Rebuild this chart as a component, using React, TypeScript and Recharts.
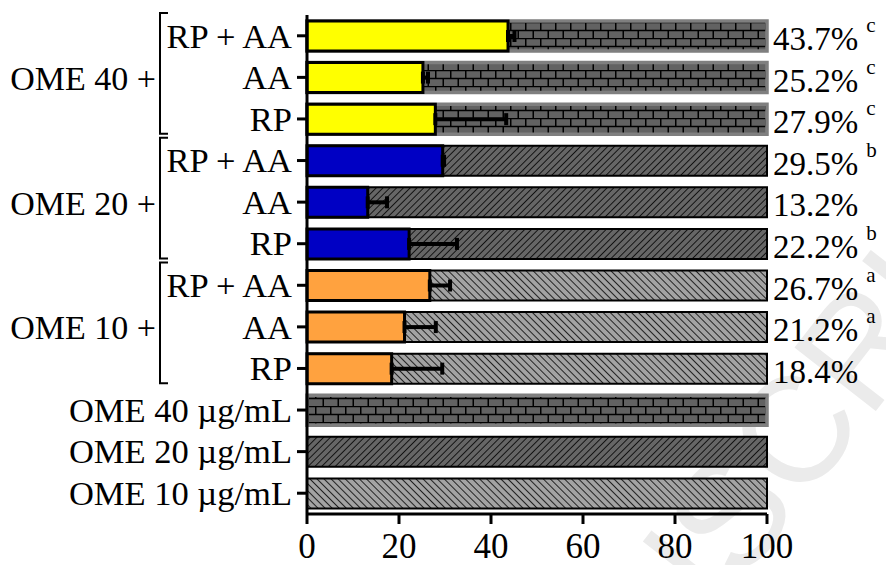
import { Bar, BarChart, Cell, ErrorBar, LabelList, XAxis, YAxis } from "recharts";

const rowLabels = [
  "RP + AA", "AA", "RP",
  "RP + AA", "AA", "RP",
  "RP + AA", "AA", "RP",
  "OME 40 µg/mL", "OME 20 µg/mL", "OME 10 µg/mL",
];
const rowDose = [40, 40, 40, 20, 20, 20, 10, 10, 10, 40, 20, 10];
const controlValues = [100, 100, 100, 100, 100, 100, 100, 100, 100, 100, 100, 100];
const treatedValues = [43.7, 25.2, 27.9, 29.5, 13.2, 22.2, 26.7, 21.2, 18.4, null, null, null];
const errorPlus = [1.4, 1.1, 15.4, 0.3, 4.2, 10.4, 4.4, 6.8, 11.0, null, null, null];
const sigLetters = ["c", "c", "c", "b", "", "b", "a", "a", "", "", "", ""];
const groupLabels = ["OME 40 +", "OME 20 +", "OME 10 +"];
const xTicks = [0, 20, 40, 60, 80, 100];

const W = 886;
const H = 565;
const MARGIN = { top: 15, right: 119, bottom: 0, left: 0 };
const X_AXIS_H = 51;
const Y_AXIS_W = 307;
const BAND = (H - MARGIN.top - MARGIN.bottom - X_AXIS_H) / rowLabels.length;
const FONT = "'Liberation Serif', 'Times New Roman', serif";

const doseColor: Record<number, string> = { 40: "#ffff00", 20: "#0000c4", 10: "#ffa23f" };
const dosePattern: Record<number, string> = { 40: "brick", 20: "hatchFwd", 10: "hatchBack" };
const doseStroke: Record<number, string> = { 40: "#7f7f7f", 20: "#000", 10: "#000" };

const rows = rowLabels.map((label, i) => ({
  key: `r${i}`,
  label,
  control: controlValues[i],
  treated: treatedValues[i],
  err: errorPlus[i] == null ? undefined : [0, errorPlus[i]],
}));

function RowTick(props: any) {
  const { x, y, payload } = props;
  const i = Number(String(payload.value).slice(1));
  const g = Math.floor(i / 3);
  const isMiddle = i < 9 && i % 3 === 1;
  const bx = 160;
  const top = y - 1.5 * BAND - 2;
  const bottom = y + 1.5 * BAND - 6;
  return (
    <g>
      <text x={x - 1} y={y} dy="0.34em" textAnchor="end" fontSize={34.5} fontFamily={FONT} fill="#000">
        {rowLabels[i]}
      </text>
      {isMiddle && (
        <g>
          <text x={156} y={y + 1} dy="0.34em" textAnchor="end" fontSize={34} fontFamily={FONT} fill="#000">
            {groupLabels[g]}
          </text>
          <path
            d={`M${bx + 8},${top} H${bx} V${bottom} H${bx + 8}`}
            fill="none"
            stroke="#000"
            strokeWidth={2}
          />
        </g>
      )}
    </g>
  );
}

function ValueTick(props: any) {
  const { x, y, payload } = props;
  return (
    <text x={x} y={y + 32} textAnchor="middle" fontSize={35} fontFamily={FONT} fill="#000">
      {payload.value}
    </text>
  );
}

function PctLabel(props: any) {
  const { x, y, width, height, value } = props;
  const i = Number(String(value).slice(1));
  const v = treatedValues[i];
  if (v == null) return null;
  return (
    <text x={x + width + 6} y={y + height / 2 + 14} fontSize={33} fontFamily={FONT} fill="#000">
      {`${v.toFixed(1)}%`}
      {sigLetters[i] && (
        <tspan dx={8} dy={-18} fontSize={21}>
          {sigLetters[i]}
        </tspan>
      )}
    </text>
  );
}

function Watermark() {
  return (
    <svg width={W} height={H} style={{ position: "absolute", left: 0, top: 0 }}>
      <g transform="translate(740,585) rotate(-52)">
        <text x={0} y={0} fontSize={150} fontFamily="'Liberation Sans', Arial, sans-serif" fill="#ebebeb" textAnchor="end">
          MANU
        </text>
        <text x={0} y={0} fontSize={150} fontFamily="'Liberation Sans', Arial, sans-serif" fill="#ebebeb">
          SCRIPT
        </text>
      </g>
    </svg>
  );
}

export default function App() {
  return (
    <div style={{ position: "absolute", left: 0, top: 0, width: W, height: H, background: "#fff" }}>
      <Watermark />
      <div style={{ position: "absolute", left: 0, top: 0 }}>
        <BarChart
          width={W}
          height={H}
          data={rows}
          layout="vertical"
          margin={MARGIN}
          barSize={30}
          barGap={-30}
        >
          <defs>
            <pattern id="hatchFwd" width={4.8} height={4.8} patternUnits="userSpaceOnUse" patternTransform="rotate(45)">
              <rect width={4.8} height={4.8} fill="#666" />
              <line x1={0} y1={0} x2={0} y2={4.8} stroke="#000" strokeWidth={1.6} />
            </pattern>
            <pattern id="hatchBack" width={5} height={5} patternUnits="userSpaceOnUse" patternTransform="rotate(-45)">
              <rect width={5} height={5} fill="#a3a3a3" />
              <line x1={0} y1={0} x2={0} y2={5} stroke="#000" strokeWidth={1.6} />
            </pattern>
            <pattern id="brick" width={15} height={16} patternUnits="userSpaceOnUse" y={22}>
              <rect width={15} height={16} fill="#626262" />
              <path d="M0,0.5 H15 M0,8.5 H15 M0.75,0 V8 M8.25,8 V16" stroke="#000" strokeWidth={1.5} fill="none" />
            </pattern>
          </defs>
          <XAxis
            type="number"
            domain={[0, 100]}
            ticks={xTicks}
            height={X_AXIS_H}
            axisLine={{ stroke: "#000", strokeWidth: 3 }}
            tickLine={{ stroke: "#000", strokeWidth: 3 }}
            tickSize={10}
            tick={<ValueTick />}
          />
          <YAxis
            type="category"
            dataKey="key"
            width={Y_AXIS_W}
            interval={0}
            axisLine={{ stroke: "#000", strokeWidth: 3 }}
            tickLine={{ stroke: "#000", strokeWidth: 3 }}
            tickSize={10}
            tickMargin={4}
            tick={<RowTick />}
          />
          <Bar dataKey="control" isAnimationActive={false}>
            {rows.map((r, i) => (
              <Cell
                key={r.key}
                fill={`url(#${dosePattern[rowDose[i]]})`}
                stroke={doseStroke[rowDose[i]]}
                strokeWidth={rowDose[i] === 40 ? 3.5 : 2}
              />
            ))}
            <LabelList dataKey="key" content={<PctLabel />} />
          </Bar>
          <Bar dataKey="treated" isAnimationActive={false}>
            {rows.map((r, i) => (
              <Cell key={r.key} fill={doseColor[rowDose[i]]} stroke="#000" strokeWidth={3} />
            ))}
            <ErrorBar dataKey="err" direction="x" width={6} stroke="#000" strokeWidth={4} />
          </Bar>
        </BarChart>
      </div>
    </div>
  );
}
